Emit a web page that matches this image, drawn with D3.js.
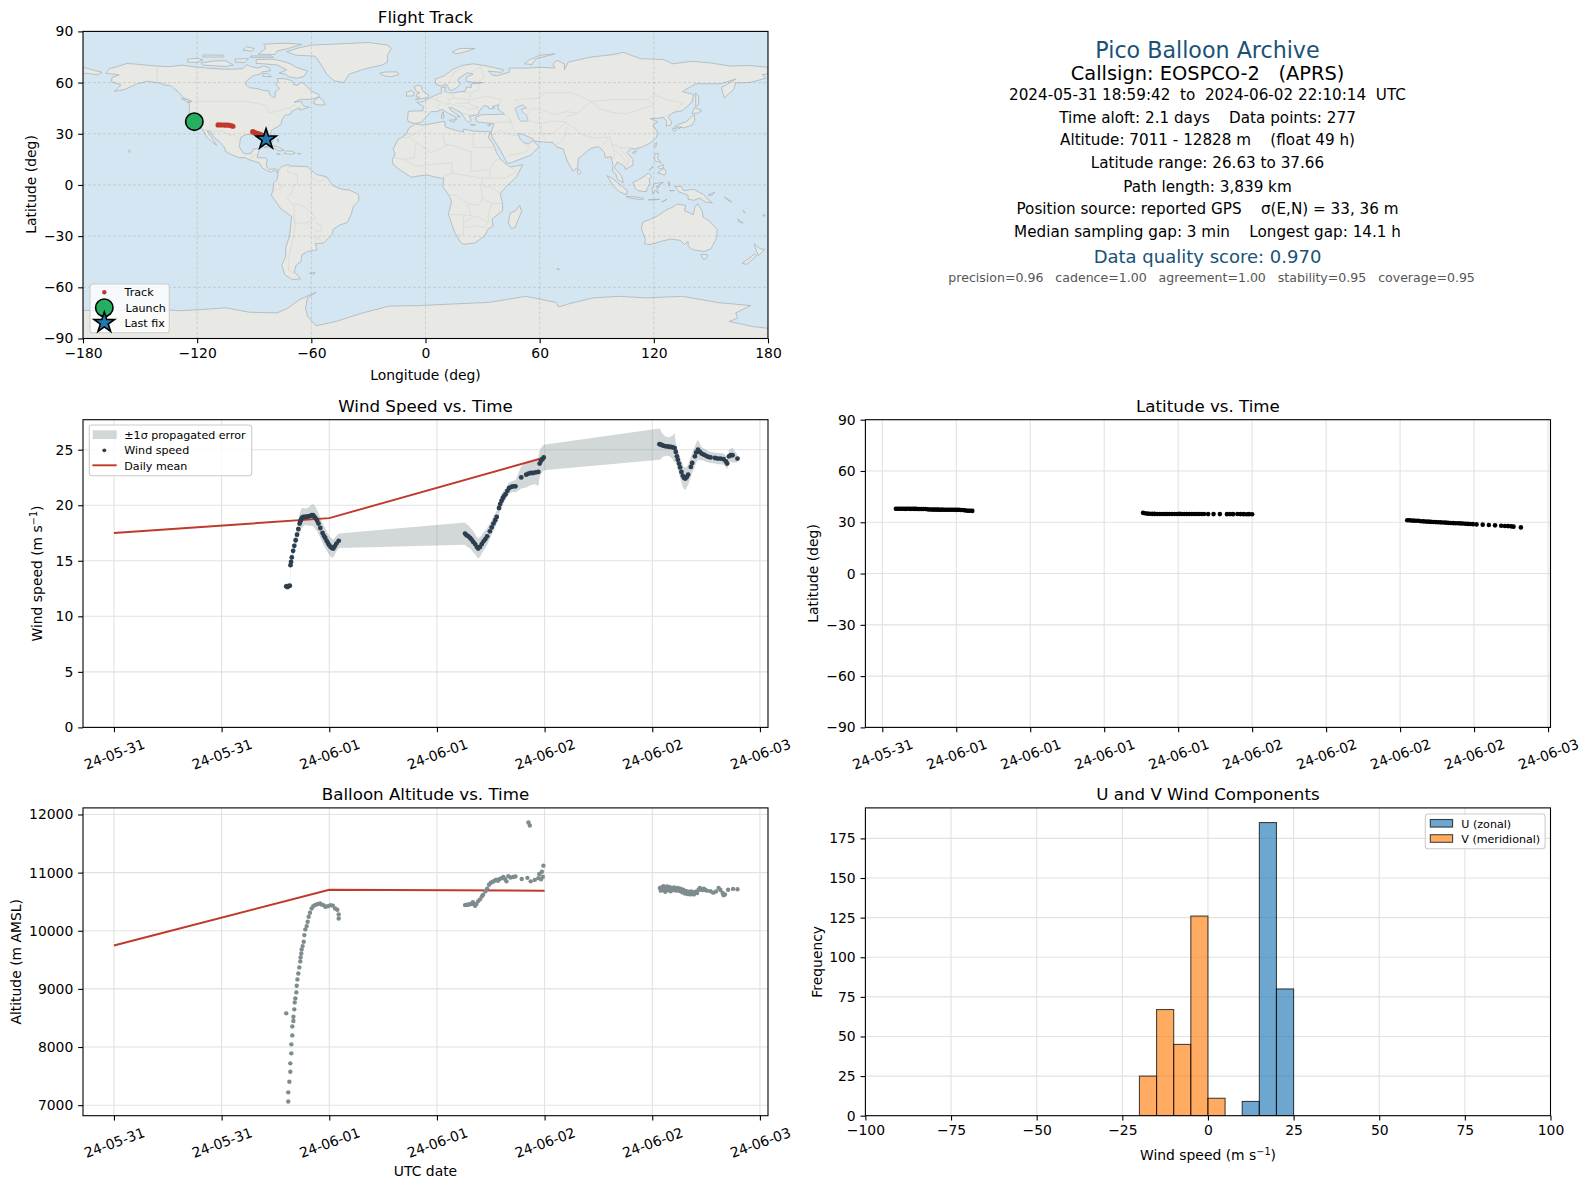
<!DOCTYPE html>
<html>
<head>
<meta charset="utf-8">
<script src="https://cdn.jsdelivr.net/npm/d3@7"></script>
<style>
body { margin: 0; background: #fff; }
text { font-family: "DejaVu Sans", sans-serif; fill: #000; white-space: pre; }
</style>
</head>
<body>
<div id="chart"></div>
<script>
// ---------- data: times are hours after 2024-05-31 00:00 UTC ----------
const startDate = Date.UTC(2024, 4, 31)

// [hour, wind speed, sigma]
const windLegOne = [[19.2,12.7,.35],[19.3,12.65,.3],[19.45,12.7,.3],[19.6,12.75,.3],[19.68,14.6,.4],[19.74,14.9,.4],[19.82,15.3,.45],[19.97,15.9,.5],[20.1,16.35,.55],[20.25,16.85,.6],[20.4,17.35,.7],[20.55,17.85,.8],[20.7,18.35,.9],[20.78,18.55,.9],[20.85,18.7,.9],[20.95,18.85,.9],[21.05,18.9,.85],[21.15,18.95,.8],[21.3,18.95,.75],[21.45,18.95,.75],[21.6,19,.8],[21.75,19,.85],[21.9,19.05,.9],[22.05,19.1,.95],[22.2,19.1,1],[22.35,18.95,1],[22.5,18.8,1],[22.65,18.6,.95],[22.8,18.35,.95],[23,17.95,.9],[23.25,17.5,.9],[23.4,17.25,.9],[23.55,17.05,.9],[23.7,16.8,.85],[23.85,16.6,.85],[24,16.4,.85],[24.15,16.25,.85],[24.3,16.15,.85],[24.45,16.1,.8],[24.6,16.3,.75],[24.8,16.55,.7],[25.05,16.8,.65]]
const windLegTwo = [[39.13,17.45,1],[39.3,17.3,1],[39.5,17.2,1],[39.7,17.05,.95],[39.87,16.9,.95],[40.05,16.7,.95],[40.25,16.5,.9],[40.45,16.25,.9],[40.6,16.1,.9],[40.8,16.25,.9],[41,16.5,.85],[41.2,16.75,.8],[41.4,16.95,.8],[41.6,17.2,.75],[41.9,17.65,.7],[42.1,18,.65],[42.3,18.35,.65],[42.5,18.65,.6],[42.66,18.95,.6],[42.92,19.75,.6],[43.05,20.1,.6],[43.2,20.4,.6],[43.35,20.65,.55],[43.5,20.85,.55],[43.65,21,.5],[43.85,21.3,.5],[44.05,21.55,.5],[44.3,21.65,.5],[44.5,21.7,.5],[44.75,21.7,.55],[45.4,22.5,1],[45.95,22.75,1.15],[46.2,22.85,1.15],[46.45,22.9,1.1],[46.7,22.9,1.05],[47,22.95,1.05],[47.3,23,1.3],[47.45,23.75,1.2],[47.6,24,1.15],[47.75,24.15,1.15],[47.9,24.3,1.15]]
const windLegThree = [[60.8,25.5,1.4],[60.95,25.45,1.3],[61.1,25.4,1.1],[61.3,25.35,.95],[61.5,25.3,.9],[61.7,25.3,.85],[61.9,25.25,.85],[62.1,25.25,.95],[62.3,25.2,1.1],[62.5,25.15,1.35],[62.62,24.8,.85],[62.75,24.4,.85],[62.85,24.1,.85],[62.98,23.75,.9],[63.1,23.4,.9],[63.25,23,.95],[63.4,22.65,1],[63.55,22.45,1],[63.7,22.4,1],[63.85,22.55,.95],[64,22.75,.9],[64.3,23.45,.9],[64.45,23.8,.9],[64.75,24.4,.9],[64.9,24.75,.9],[65.1,25,.9],[65.3,24.8,.75],[65.5,24.65,.6],[65.75,24.55,.55],[66,24.45,.55],[66.25,24.35,.5],[66.5,24.3,.5],[67,24.25,.5],[67.3,24.2,.5],[67.6,24.2,.5],[67.95,24.15,.5],[68.2,23.95,.5],[68.35,23.75,.5],[68.55,24.4,.55],[68.75,24.5,.6],[68.95,24.5,.65],[69.5,24.2,.35]]
const windMeanHours = [0, 24, 48]
const windMeanValues = [17.5, 18.84, 24.3]

// [hour, altitude]
const altLegOne = [[19.2,8579],[19.43,7063],[19.43,7221],[19.55,7404],[19.66,7576],[19.66,7719],[19.77,7891],[19.77,8046],[19.88,8200],[19.88,8355],[20,8447],[20,8521],[20.1,8648],[20.15,8768],[20.22,8837],[20.33,8940],[20.37,9054],[20.45,9163],[20.55,9266],[20.66,9370],[20.77,9473],[20.8,9542],[20.88,9610],[20.92,9679],[21.03,9736],[21.15,9811],[21.22,9925],[21.33,10023],[21.48,10080],[21.59,10155],[21.7,10241],[21.85,10309],[22.03,10384],[22.22,10424],[22.4,10441],[22.6,10453],[22.78,10462],[22.98,10470],[23.15,10450],[23.35,10441],[23.55,10413],[23.75,10420],[23.92,10424],[24.15,10441],[24.4,10432],[24.65,10384],[24.9,10360],[25.05,10281],[25.05,10212]]
const altLegTwo = [[39.13,10441],[39.3,10448],[39.5,10447],[39.7,10460],[39.87,10458],[40,10490],[40.1,10470],[40.25,10430],[40.4,10460],[40.6,10510],[40.8,10540],[41,10590],[41.15,10620],[41.4,10680],[41.6,10725],[41.8,10790],[42,10825],[42.2,10840],[42.4,10860],[42.6,10880],[42.8,10860],[43,10890],[43.2,10905],[43.4,10925],[43.6,10890],[43.75,10850],[43.95,10940],[44.2,10915],[44.5,10925],[44.75,10935],[45.45,10890],[46.08,10910],[46.2,11862],[46.35,11811],[46.45,10850],[46.9,10875],[47.3,10905],[47.4,10975],[47.6,10885],[47.7,11015],[47.8,10930],[47.87,11120]]
const altLegThree = [[60.85,10735],[60.95,10690],[61.05,10745],[61.15,10700],[61.25,10765],[61.35,10715],[61.45,10670],[61.55,10735],[61.65,10760],[61.75,10695],[61.85,10720],[61.95,10750],[62.05,10680],[62.15,10715],[62.25,10735],[62.35,10700],[62.45,10745],[62.55,10725],[62.65,10690],[62.75,10710],[62.85,10735],[62.95,10715],[63.05,10685],[63.15,10725],[63.25,10700],[63.35,10660],[63.45,10705],[63.55,10680],[63.65,10640],[63.75,10685],[63.85,10655],[63.95,10630],[64.05,10670],[64.15,10645],[64.25,10625],[64.35,10675],[64.45,10640],[64.55,10660],[64.65,10625],[64.8,10670],[65,10650],[65.15,10705],[65.3,10735],[65.45,10705],[65.6,10700],[65.75,10725],[65.9,10700],[66.1,10690],[66.5,10680],[66.8,10655],[67.1,10675],[67.4,10735],[67.6,10700],[67.85,10650],[67.95,10610],[68.1,10625],[68.45,10705],[69,10720],[69.5,10715]]
const altMeanHours = [0, 24, 48]
const altMeanValues = [9745, 10705, 10688]

// [hour, latitude]
const latLegOne = [[19.1,37.9],[19.25,37.92],[19.4,37.88],[19.55,37.95],[19.7,37.9],[19.85,37.86],[20,37.92],[20.15,37.9],[20.3,37.85],[20.45,37.88],[20.6,37.82],[20.75,37.85],[20.9,37.8],[21.05,37.78],[21.2,37.8],[21.35,37.75],[21.5,37.72],[21.65,37.6],[21.8,37.5],[21.95,37.45],[22.1,37.42],[22.25,37.4],[22.4,37.42],[22.55,37.38],[22.7,37.35],[22.85,37.38],[23,37.35],[23.15,37.32],[23.3,37.35],[23.45,37.3],[23.6,37.32],[23.75,37.3],[23.9,37.28],[24.05,37.25],[24.2,37.28],[24.35,37.2],[24.5,37.15],[24.65,37],[24.8,36.85],[24.95,36.75],[25.1,36.7],[25.3,36.65]]
const latLegTwo = [[39.15,35.5],[39.3,35.3],[39.5,35.05],[39.7,34.95],[39.9,34.9],[40.1,34.88],[40.3,34.85],[40.5,34.85],[40.7,34.82],[40.9,34.85],[41.1,34.85],[41.3,34.82],[41.5,34.85],[41.7,34.82],[41.9,34.85],[42.1,34.88],[42.3,34.85],[42.5,34.82],[42.7,34.85],[42.9,34.85],[43.1,34.82],[43.3,34.85],[43.5,34.82],[43.7,34.8],[43.9,34.82],[44.1,34.8],[44.43,34.78],[44.87,34.78],[45.38,34.78],[45.96,34.75],[46.2,34.78],[46.45,34.75],[46.8,34.8],[47.05,34.78],[47.3,34.75],[47.55,34.72],[47.75,34.75],[48,34.72]]
const latLegThree = [[60.58,31.2],[60.75,31.15],[60.9,31.05],[61.1,30.95],[61.3,30.9],[61.5,30.85],[61.7,30.6],[61.9,30.55],[62.1,30.4],[62.3,30.35],[62.5,30.25],[62.7,30.15],[62.9,30.1],[63.1,30.05],[63.3,29.95],[63.5,29.85],[63.7,29.8],[63.9,29.65],[64.1,29.55],[64.3,29.5],[64.5,29.4],[64.7,29.4],[64.9,29.35],[65.1,29.25],[65.3,29.15],[65.5,29.05],[65.7,28.95],[65.9,28.9],[66.2,28.75],[66.7,28.6],[67.2,28.4],[67.7,28.2],[68.2,27.95],[68.5,27.8],[68.75,27.75],[69,27.6],[69.2,27.45],[69.8,27]]

// map track [lon, lat]
const trackLegTwo = [[-109,35.2],[-107.5,35.2],[-106,35.15],[-105,35.1],[-104,35.15],[-103,35],[-102,34.7],[-101.2,34.4]]
const trackLegThree = [[-90.8,31.2],[-90,30.8],[-89,30.4],[-88,30.1],[-87,29.6],[-86,29.2],[-85,28.6]]
const launchPoint = [-121.5, 37.1]
const lastFixPoint = [-83.8, 26.75]

// histogram bins, 5 m/s wide: left edge and count
const uBinEdges = [10, 15, 20]
const uBinCounts = [9, 185, 80]
const vBinEdges = [-20, -15, -10, -5, 0]
const vBinCounts = [25, 67, 45, 126, 11]

// info block
const infoLines = [
  "Pico Balloon Archive",
  "Callsign: EOSPCO-2   (APRS)",
  "2024-05-31 18:59:42  to  2024-06-02 22:10:14  UTC",
  "Time aloft: 2.1 days    Data points: 277",
  "Altitude: 7011 - 12828 m    (float 49 h)",
  "Latitude range: 26.63 to 37.66",
  "Path length: 3,839 km",
  "Position source: reported GPS    \u03c3(E,N) = 33, 36 m",
  "Median sampling gap: 3 min    Longest gap: 14.1 h",
  "Data quality score: 0.970",
  "precision=0.96   cadence=1.00   agreement=1.00   stability=0.95   coverage=0.95"
]

// ---------- land outlines, [lon, lat] ----------
const northAmerica = [[-168,65.5],[-166,68.3],[-163,69],[-157,71.2],[-152,70.8],[-145,70],[-141,69.7],[-135,69.3],[-128,70.2],[-124,69.6],[-115,68.5],[-108,68],[-102,67.8],[-96,68.2],[-94,70.5],[-92,69.5],[-88,68.5],[-85,69.7],[-82,68.5],[-81.5,67],[-86,66.2],[-87,65],[-91,63.8],[-94,61],[-94.6,58.9],[-92.5,57],[-88,56.4],[-85,55.3],[-82.3,55.1],[-82,53],[-80,51.3],[-79,51.5],[-79,54.5],[-76.7,56.5],[-78.5,58.8],[-77.5,60.5],[-78,62.4],[-73.5,62.2],[-70,61],[-69.5,59],[-67.5,58.3],[-65,60.2],[-62,57.5],[-60,55],[-56,53],[-56,51.6],[-60,50.2],[-66,50.2],[-69,48.5],[-65,49],[-65,47.5],[-64,46.2],[-61,45.5],[-66,43.8],[-66,45.2],[-68,44.4],[-70.5,43],[-70.5,41.8],[-74,40.7],[-75.5,38],[-76,35.5],[-78,33.9],[-81,32],[-81.3,30],[-80,26.8],[-80.4,25.2],[-81.8,26],[-82.7,28],[-83.5,29.5],[-85.3,29.7],[-89,30.3],[-89.6,29.2],[-91.5,29.5],[-94,29.6],[-97,28],[-97.5,25.5],[-97.8,22.5],[-96,19],[-94.5,18.2],[-91.5,18.6],[-90.5,21],[-87,21.5],[-88,18.5],[-88.5,16],[-84,15.8],[-83.2,15],[-83.7,11],[-82,9],[-79.5,9.5],[-77.3,8.6],[-77.9,7.2],[-79.5,8.8],[-81,7.5],[-83,8.2],[-85.7,10],[-87.5,13],[-92,14.5],[-95,16],[-98,16],[-102,17.8],[-105.5,20],[-105.3,21.5],[-108,25],[-111,27.8],[-113,31.3],[-114.8,31.7],[-112.5,28],[-109.8,23.2],[-112,25],[-115,28],[-117,32.5],[-120.6,34.5],[-122.5,37.5],[-124.2,40.3],[-124,46],[-124.7,48.4],[-122.8,49],[-127,51],[-130,54.5],[-133.5,58],[-137,58.5],[-140,59.8],[-146,60.8],[-152,59.2],[-154,58],[-158,56],[-163.5,54.8],[-160,58.6],[-165,60.5],[-164.8,63],[-161,64.5],[-168,65.5]]
const southAmerica = [[-77.3,8.6],[-75.5,10.8],[-72,12],[-71.3,11],[-68,11],[-62,10.7],[-60,8.5],[-57,6],[-52,4.8],[-50,1.5],[-48.5,-0.5],[-44,-2.5],[-40,-3],[-35.2,-5.5],[-35,-9],[-38,-12.8],[-39,-17],[-41,-22],[-45,-23.5],[-48.5,-26],[-49,-29],[-53.5,-34],[-58,-34.5],[-57,-38],[-62,-39],[-65,-41],[-65.5,-45],[-68,-47],[-69,-51],[-65.5,-55],[-70,-55.5],[-74,-52.5],[-75.5,-47],[-73.5,-42],[-73.5,-37],[-71.5,-30],[-70.3,-18.5],[-76,-14],[-81,-6],[-80,-2.5],[-80,1],[-78,3],[-77.5,7],[-77.3,8.6]]
const eurasia = [[-9,37],[-9.5,38.8],[-9,43.2],[-1.5,43.5],[-1,46],[-4.7,48.4],[-1.5,48.7],[1.5,50.5],[4,52],[7,53.5],[8.5,54],[8.2,57],[10.5,57.5],[10,55],[12,54],[14,53.9],[18.5,54.7],[21,55],[21.5,57.5],[24,57],[24,59.3],[28,59.5],[30,60],[25,60.2],[21.5,60.7],[21.3,63],[25,65],[22,65.8],[17.5,62.5],[17,61],[18.5,59.5],[16.5,57],[14,55.5],[12.8,55.5],[11,59],[8,58],[5.5,59],[5,62],[10,64],[14,67.5],[19,70],[25,71],[31,70],[41,67.5],[40,66],[35,66.5],[33,66.7],[35,64.5],[38,64],[40.5,65],[44,66],[44,68.5],[54,68.5],[60,69],[68,68.5],[67,71],[69,73],[73,71],[73,67.5],[75,72],[81,73.5],[87,75],[98,76.3],[104,77.7],[113,74],[125,73.5],[130,71],[140,72.5],[150,71.5],[160,69.7],[170,70],[180,69],[180,65],[177,64.7],[179,62.5],[170,60],[163,59.8],[162,56],[157,51],[155.5,57],[163,62],[155,59.3],[142,59.3],[135,54.7],[141,53],[140,48.5],[135,43.5],[132,43],[130,42.3],[127.5,39.7],[129.4,37],[129,35.2],[126.5,34.5],[126.7,37.5],[125,39.6],[121.5,39],[118,39],[122,37],[119.5,35],[122,31],[121.5,28],[118,24.5],[114,22.3],[110,21],[108,21.6],[106,19],[109,15],[109,11.5],[105,9],[105,10.3],[100.8,13.5],[99.3,10],[103,5.5],[104,1.4],[101,3],[100,6.5],[98.3,8],[98.5,12],[97.5,16.5],[94.5,16],[94,19],[91,22.5],[87,21.5],[80.3,15.5],[80,10.5],[77.5,8],[74.5,14],[72.8,19.5],[72.5,21],[69,22.3],[67,24.8],[62,25.2],[57.3,25.7],[56.5,27],[50.5,30],[48.5,30],[50,26.5],[51.5,25],[54,24],[56.3,26],[59.8,22.5],[55.3,17.5],[45,13],[43,12.8],[39,21],[35,28],[34.5,31],[36,36],[30.5,36.5],[27,37],[26.3,39.5],[29,41],[31,41.2],[36,41.3],[41.5,41.5],[38,44.5],[38.5,47],[35,46],[36.5,45.2],[33.5,44.5],[33,46],[30.7,46.5],[28,43],[28,41.5],[26,40.7],[23,40.5],[24,38],[22.8,36.5],[21,38.5],[19.5,41],[19,42.2],[14,45.2],[12.3,45.3],[13.5,43.5],[18.3,40],[16.9,40.3],[16,38],[15.7,40],[12,42],[8.8,44.3],[6,43],[3,43],[0,39.5],[-2,36.8],[-5.5,36],[-9,37]]
const chukotkaTip = [[-180,69],[-175,67.5],[-170,66],[-172.5,64.5],[-178,65.5],[-180,65]]
const africa = [[-5.5,35.8],[-1.5,35],[10,37.3],[10.5,34],[15,32.3],[20,31],[20,32.8],[25,31.6],[32,31.2],[34.3,31.2],[33,28],[35.5,24],[37.5,18.5],[39.5,15],[43,11.6],[44.5,10.5],[51,11.8],[48,5],[42,-1.5],[39.3,-5],[40.5,-11],[40.5,-15],[35,-20],[35.5,-24],[32.8,-26],[31,-30],[26,-34],[20,-34.8],[18.3,-33.5],[15,-27],[12,-17],[13.7,-10],[12.3,-6],[9,-1],[9.7,3.8],[5.5,4.5],[1,5.8],[-4,5.2],[-7.5,4.5],[-13,8.5],[-17,12],[-17.5,14.7],[-16,18],[-17,21],[-14.5,26.5],[-9.8,30],[-9,33],[-5.5,35.8]]
const australia = [[114,-22],[113.5,-26],[115.7,-32],[115,-34.4],[118,-35],[124,-33],[129,-31.7],[134,-32.5],[136,-34.8],[138,-33],[138,-35.7],[140.5,-38],[146.3,-39],[150,-37.5],[153,-31],[153.3,-26],[149,-21],[146,-19],[145.3,-15],[143,-11],[141.5,-13],[140.8,-17.5],[136,-15],[136.8,-12],[132,-11.2],[130,-13],[127,-14.3],[122.2,-18],[117,-20.7],[114,-22]]
const antarctica = [[-180,-73.5],[-164,-73.5],[-143,-72.7],[-129,-73.7],[-117,-73],[-105,-72],[-92.6,-74.6],[-78,-75],[-72,-72],[-66,-67],[-57.5,-63],[-62,-66],[-63,-72],[-62,-77],[-57.5,-82.5],[-47,-80],[-33,-75],[-19,-71],[-3.3,-70.7],[14,-69.8],[33.5,-68.8],[52.7,-65.3],[68.5,-68.8],[70,-71.5],[75.5,-69.6],[88,-66.2],[102,-65.3],[116,-66.2],[135,-65.3],[154.3,-69],[171,-70.7],[163,-75],[164,-78],[159.6,-80],[172,-83],[180,-84],[180,-90],[-180,-90],[-180,-73.5]]
const greenland = [[-73,78.2],[-66,80.5],[-60,82],[-45,82.7],[-30,83.5],[-20,82],[-18,80],[-20,76],[-20,72],[-23,70.2],[-32,68],[-40,65],[-43,60],[-48,61],[-52,65],[-54,69],[-58,75.5],[-68,76],[-73,78.2]]
const arcticIslands = [
  [[-80,73.7],[-76,72.8],[-71,71],[-68,69],[-62,66.8],[-64,63.5],[-68,62.5],[-72,63.5],[-73.5,65],[-77,65.5],[-73,67.5],[-78,70.3],[-85,71],[-89,71.3],[-89,73.5]],
  [[-117,70.2],[-105,69.5],[-101,70.3],[-105,72.8],[-111,72.7],[-118,71.5]],
  [[-125,72],[-120,71.8],[-117,73.3],[-120,74.3],[-125,73.8]],
  [[-88,76.6],[-79,76.5],[-78,78.5],[-72,80],[-65,82.5],[-75,83.1],[-85,82.5],[-84,80]],
  [[-92,74.8],[-80,74.8],[-81,75.6],[-92,75.6]],
  [[-117,75],[-106,75],[-106,76],[-117,76.2]],
  [[-96,79],[-91,78.4],[-90,80],[-94,81]],
  [[-100,72],[-95,71.8],[-93,74],[-100,73.8]],
  [[-85.5,63.7],[-81,63.5],[-83,65.3],[-85.5,65.3]],
  [[14,78],[16,76.8],[22,78.3],[26,80],[18,80]],
  [[52,71],[56,70.6],[58,74],[68,76.8],[60,76],[54,73]]
]
const otherIslands = [
  [[-59,47.7],[-55.5,46.8],[-52.8,47],[-53.5,49.2],[-56,51.5],[-58,50]],
  [[-85,21.9],[-82,23.1],[-78,22.5],[-74.2,20.2],[-77.5,19.9],[-78,20.8],[-82,22.2]],
  [[-74.4,18.5],[-73,19.9],[-69.9,19.7],[-68.4,18.6],[-71,18]],
  [[-78.3,18.3],[-76.3,18.1],[-77,17.8]],
  [[-67.2,18.4],[-65.6,18.4],[-66,18]],
  [[-78,26.7],[-77,26.5],[-77.5,25]],
  [[-156,20.6],[-155,19.7],[-155.7,19]],
  [[-128.3,50.7],[-125,50],[-123.5,48.4],[-125.5,48.8]],
  [[-61,-51.8],[-58,-51.3],[-58.5,-52.3]],
  [[-5.5,50],[1.3,51.2],[1.7,52.7],[-1,54.5],[-2,56],[-2,57.7],[-4,58.6],[-6,57.5],[-5,55],[-3,54],[-4.5,53.2],[-5,51.8],[-3,51.3]],
  [[-10,52],[-6.5,52.2],[-6,54],[-7.5,55.3],[-10,54.2]],
  [[-24,65.5],[-22,64],[-18,63.4],[-14,64.7],[-15,66.3],[-21,66.2]],
  [[12.5,38],[15.5,38.2],[15,36.7]],
  [[8.3,41],[9.7,41],[9.6,39.1],[8.5,39]],
  [[8.7,42.6],[9.5,42.8],[9.3,41.4]],
  [[23.5,35.5],[26.3,35.2],[24.5,34.9]],
  [[32.5,35],[34.5,35.6],[33.5,34.7]],
  [[49.5,-12],[50.5,-15.5],[47,-25],[45,-25.5],[43.5,-22],[44.5,-16.5],[47.5,-15]],
  [[142,54],[143.5,52],[143.5,47],[142,46],[142,50]],
  [[130.9,34],[136,33.5],[140,35],[141.5,38],[141.3,41.3],[139.9,40],[137,37],[133,35.5]],
  [[140,42],[141.5,45.4],[145.3,43.5],[143,42]],
  [[130,33.3],[131.8,33],[131,31.3],[130,32]],
  [[132.5,34],[134.5,34],[133,32.8]],
  [[120,23],[121.5,25],[121,22]],
  [[108.8,19],[111,20],[110,18.3]],
  [[120.3,16],[120.7,18.5],[122.3,18.3],[122,15.5],[124,13],[120.8,14]],
  [[122,7],[123.5,8.5],[125.5,9.7],[126.5,7.5],[125.5,5.7],[124,6.5]],
  [[122,10.5],[125,12],[125,10],[123,9.5]],
  [[117.5,8.5],[119.5,11],[119,10]],
  [[80,9.7],[82,7.5],[80.7,6],[79.8,7.5]],
  [[95.3,5.5],[98,4],[104,-1.5],[106,-3.2],[105.8,-5.8],[102,-4],[99,-1]],
  [[105.5,-6.8],[108.5,-6.7],[114.5,-7.7],[114.3,-8.7],[108,-7.8]],
  [[109,1.5],[111.5,2.8],[115,5],[117,7],[119,5],[117.5,3.5],[118,1],[116.5,-2],[116,-4],[111.5,-3.3],[110,-1.5]],
  [[119.5,-5.5],[119,-3],[120,0.7],[125,1.5],[121,-1],[123,-1],[121.5,-2],[122.5,-5],[120.5,-3]],
  [[131,-0.8],[134.5,-0.8],[135.5,-3.3],[141,-2.6],[146,-5.5],[148,-8],[150.8,-10.5],[147,-10],[144,-7.7],[141,-9],[138,-8.4],[138,-6],[133,-4],[132.5,-2.8]],
  [[124,-10],[127,-8.4],[125,-9.5]],
  [[117,-8.7],[123,-8.4],[120,-8.8]],
  [[127.5,2],[128.5,1],[128,-0.8]],
  [[128,-3.2],[130.8,-3.3],[129,-3.5]],
  [[148.5,-6],[152,-4.2],[150.5,-6]],
  [[157,-7],[161,-10],[160,-9.8]],
  [[164,-20],[167,-22.3],[165,-21.8]],
  [[167,-15],[168,-16.5],[167.3,-16]],
  [[177.3,-17.5],[178.6,-18],[177.5,-18.3]],
  [[144.7,-40.7],[148.3,-40.9],[147.5,-43.3],[146,-43.5]],
  [[172.7,-34.5],[176,-37.5],[178.3,-37.7],[175,-41.5],[174,-39]],
  [[172.7,-40.5],[174,-41.5],[171,-44.5],[168.5,-46.6],[166.5,-45.8],[170.5,-42.7]],
  [[69,-49],[70.5,-49.5],[69.5,-49.7]]
]
const inlandSeas = [
  [[47,45],[51,47],[53,45],[50.5,44.5],[51,42.5],[53,41],[54,37.5],[50,37.3],[49,39],[48,42]]
]
const borderLines = [
  [[-123,49],[-95,49],[-89,48],[-84.5,46.5],[-82.5,45],[-82.5,42],[-79,43],[-76,44],[-74.5,45],[-71,45],[-69,47.3],[-67.5,45.5]],
  [[-141,69.7],[-141,60.3],[-135,59],[-130,55.5]],
  [[-117,32.5],[-111,31.3],[-106.5,31.7],[-103,29],[-101,29.7],[-97.2,26]],
  [[-92,14.6],[-91,17],[-89,18]],
  [[-72,11],[-72.5,7.5],[-67.5,6],[-67,1],[-70,-1],[-70,-4.2],[-73,-7],[-70.5,-11],[-69,-12.5],[-69,-16],[-68.5,-22.5],[-62.5,-22],[-58,-19.5],[-60,-16],[-65,-12],[-69.5,-11]],
  [[-69.5,-17.5],[-68.5,-24],[-70,-33],[-71.5,-40],[-72,-50],[-69,-52]],
  [[-62.5,-22],[-58,-27],[-55,-27],[-54.5,-24],[-58,-22]],
  [[-58,-34],[-57.5,-30],[-53.5,-33.7]],
  [[-80,-3.5],[-75,-1],[-78,1.5]],
  [[-60,8.5],[-60,5],[-57,2],[-54,2.5],[-52,4]],
  [[-1.5,35],[-2,32],[-9,28],[-13,27.7]],
  [[-9,28],[-5,25],[-6,16],[-12,15],[-16.5,16]],
  [[-5,25],[3,19],[12,23.5]],
  [[9,30],[10,24],[12,23.5],[15,23],[24,19.5],[24,8]],
  [[25,31.6],[25,22],[37,22]],
  [[3,12],[14,13],[14,7],[9,4.5]],
  [[-12,15],[-5,11],[3,12]],
  [[24,8],[34,9],[36,14],[39,15]],
  [[34,9],[34,4],[42,4],[48,8],[43,11.5]],
  [[14,7],[24,5],[30,4],[34,4]],
  [[12,-6],[16,-6],[22,-11],[28,-12],[30,-8],[29,-1],[30,4]],
  [[30,-1],[34,-1],[39,-4.5]],
  [[30,-8],[35,-11],[40.5,-10.8]],
  [[12,-17],[24,-18],[22,-11]],
  [[20,-18],[20,-29],[17,-29]],
  [[20,-22],[26,-18],[33,-22],[31,-25],[27,-24],[20,-25]],
  [[35,-11],[33,-16],[33,-22]],
  [[-1.8,43.3],[3,42.5]],
  [[2.5,51],[6,49.5],[8,48.9],[7.5,47.5],[6,46],[7.5,44]],
  [[7,53.3],[6,51],[6,49.5]],
  [[9,54.8],[14,54]],
  [[14,54],[15,51],[12,50],[13,47.5],[9.5,47.5]],
  [[14,51],[23,50],[24,54],[19,54.4]],
  [[13.5,46.5],[17,48],[22,48],[24,50]],
  [[22,48],[28,45.3],[22.5,44],[20,46],[17,46]],
  [[19,42],[23,41],[26.5,41.5]],
  [[24,50],[32,52],[40,50],[38.5,47]],
  [[24,54],[28,56],[28,59.5]],
  [[12,60],[15,66],[20,69]],
  [[24,66],[29,69.5],[31,63],[28,60.7]],
  [[50,46],[47,50],[60,51],[62,54],[77,54],[87,49]],
  [[87,49],[98,50],[107,50],[117,50],[120,53],[127,50],[135,48],[131,43]],
  [[87,49],[91,45],[97,42.7],[105,41.7],[112,44],[120,47],[117,50]],
  [[87,49],[80,42],[74,40]],
  [[53,41],[56,45],[61,44],[68,41],[74,43],[80,42]],
  [[54,37.5],[61,36],[66,37.5],[74,37]],
  [[61,36],[61,30],[63,26.5]],
  [[61,30],[66,30],[71,34],[74,37]],
  [[74,34],[74,30],[71,25],[68,23.5]],
  [[74,36],[79,33],[81,30],[88,27.5],[97,28]],
  [[97,28],[92,22]],
  [[97,28],[98,24],[99,20],[99,15]],
  [[100,20],[105,14.5],[103,11]],
  [[102,22],[108,21.6]],
  [[102,22],[107,15],[105.5,10.5]],
  [[98,24],[102,22]],
  [[44.5,39],[46,33],[48.5,30]],
  [[36,36.5],[44.5,37],[44.5,39],[41.5,41.5]],
  [[35,29],[39,32],[46,29],[48.5,29]],
  [[43,17],[52,19],[55,22],[52,24]],
  [[125,40],[130,42.3]]
]

// ---------- layout ----------
const width = 1589, height = 1189
const panels = {
  map:  { left: 83, right: 768, top: 31.4, bottom: 338.5 },
  wind: { left: 83, right: 768, top: 419.7, bottom: 727.4 },
  lat:  { left: 865.4, right: 1550.5, top: 419.7, bottom: 727.4 },
  alt:  { left: 83, right: 768, top: 807.9, bottom: 1115.7 },
  hist: { left: 865.4, right: 1550.5, top: 807.9, bottom: 1115.7 }
}
const tickLen = 4.86
const red = "#c0392b"
const starSize = 130

// one entry per info line: centre x, centre y, font size, colour
const infoStyle = [
  [1207.5, 50.7, 22.2, "#1a5276"],
  [1207.5, 73, 19.4, "#000"],
  [1207.5, 94.2, 15.2, "#000"],
  [1207.5, 117.6, 15.2, "#000"],
  [1207.5, 139.8, 15.2, "#000"],
  [1207.5, 163, 15.2, "#000"],
  [1207.5, 186.5, 15.2, "#000"],
  [1207.5, 208.8, 15.2, "#000"],
  [1207.5, 232, 15.2, "#000"],
  [1207.5, 256.4, 18, "#1a5276"],
  [1211.6, 277.7, 12.55, "#555"]
]

const svg = d3.select("#chart").append("svg")
  .attr("width", width)
  .attr("height", height)
  .style("display", "block")

let clipId = 0

function setupPanel(box, xDomain, yDomain) {
  const x = d3.scaleLinear().domain(xDomain).range([box.left, box.right])
  const y = d3.scaleLinear().domain(yDomain).range([box.bottom, box.top])
  const id = "clip" + clipId++
  svg.append("clipPath").attr("id", id).append("rect")
    .attr("x", box.left).attr("y", box.top)
    .attr("width", box.right - box.left).attr("height", box.bottom - box.top)
  const g = svg.append("g").attr("clip-path", "url(#" + id + ")")
  return { box, x, y, g }
}

function drawGrid(p, xTicks, yTicks, color, dash, lineWidth) {
  const grid = p.g.append("g").attr("stroke", color).attr("stroke-width", lineWidth || 1.1)
  if (dash) grid.attr("stroke-dasharray", dash)
  grid.selectAll(".v").data(xTicks).join("line").attr("class", "v")
    .attr("x1", d => p.x(d)).attr("x2", d => p.x(d))
    .attr("y1", p.box.top).attr("y2", p.box.bottom)
  grid.selectAll(".h").data(yTicks).join("line").attr("class", "h")
    .attr("x1", p.box.left).attr("x2", p.box.right)
    .attr("y1", d => p.y(d)).attr("y2", d => p.y(d))
}

function drawFrame(p, xTicks, yTicks, title, xFormat, rotate) {
  const box = p.box
  svg.append("rect")
    .attr("x", box.left).attr("y", box.top)
    .attr("width", box.right - box.left).attr("height", box.bottom - box.top)
    .attr("fill", "none").attr("stroke", "#000").attr("stroke-width", 1.1)

  const xAxis = svg.append("g")
    .attr("transform", "translate(0," + box.bottom + ")")
    .call(d3.axisBottom(p.x).tickValues(xTicks).tickFormat(xFormat).tickSize(tickLen).tickPadding(4.86))
  const yAxis = svg.append("g")
    .attr("transform", "translate(" + box.left + ",0)")
    .call(d3.axisLeft(p.y).tickValues(yTicks).tickSize(tickLen).tickPadding(4.86).tickFormat(plainLabel))

  for (const a of [xAxis, yAxis]) {
    a.select(".domain").remove()
    a.selectAll("line").attr("stroke", "#000").attr("stroke-width", 1.1)
    a.selectAll("text").style("font-size", "13.9px").style("font-family", '"DejaVu Sans"').attr("fill", "#000")
  }
  if (rotate) {
    xAxis.selectAll("text")
      .attr("y", 26.9).attr("dy", "0.35em")
      .attr("transform", "rotate(-20 0 26.9)")
  }

  svg.append("text")
    .attr("x", (box.left + box.right) / 2).attr("y", box.top - 8)
    .attr("text-anchor", "middle").style("font-size", "16.67px")
    .text(title)
}

function xLabel(cx, cy, parts) {
  const t = svg.append("text").attr("x", cx).attr("y", cy).attr("dy", "0.35em")
    .attr("text-anchor", "middle").style("font-size", "13.9px")
  writeParts(t, parts)
}

function yLabel(cx, cy, parts) {
  const t = svg.append("text").attr("transform", "translate(" + cx + "," + cy + ") rotate(-90)")
    .attr("dy", "0.35em").attr("text-anchor", "middle").style("font-size", "13.9px")
  writeParts(t, parts)
}

// a plain string, or [before, superscript, after]
function writeParts(t, parts) {
  if (typeof parts === "string") { t.text(parts); return }
  t.append("tspan").text(parts[0])
  t.append("tspan").attr("dy", "-5").style("font-size", "9.7px").text(parts[1])
  t.append("tspan").attr("dy", "5").text(parts[2])
}

function dots(p, rows, r, color, getX, getY) {
  p.g.append("g").selectAll("circle").data(rows).join("circle")
    .attr("cx", d => p.x(getX(d)))
    .attr("cy", d => p.y(getY(d)))
    .attr("r", r)
    .attr("fill", color)
}

function legendBox(x0, y0, w, h) {
  svg.append("rect").attr("x", x0).attr("y", y0).attr("width", w).attr("height", h)
    .attr("rx", 2.8).attr("fill", "#fff").attr("fill-opacity", 0.8)
    .attr("stroke", "#ccc").attr("stroke-width", 1.1)
}

function legendText(x0, cy, label) {
  svg.append("text").attr("x", x0).attr("y", cy).attr("dy", "0.35em")
    .style("font-size", "11.1px").text(label)
}

function dateLabel(d) { return d3.utcFormat("%y-%m-%d")(new Date(startDate + d * 3600e3)) }
function plainLabel(d) { return d3.format("")(d).replace("-", "\u2212") }

// ---------- flight track map ----------
const lonTicks = [-180, -120, -60, 0, 60, 120, 180]
const latTicks = [-90, -60, -30, 0, 30, 60, 90]
const mapP = setupPanel(panels.map, [-180, 180], [-90, 90])
const geoLine = d3.line().x(d => mapP.x(d[0])).y(d => mapP.y(d[1]))

mapP.g.append("rect")
  .attr("x", panels.map.left).attr("y", panels.map.top)
  .attr("width", panels.map.right - panels.map.left)
  .attr("height", panels.map.bottom - panels.map.top)
  .attr("fill", "#d4e6f1")

const landShapes = [northAmerica, southAmerica, eurasia, chukotkaTip, africa, australia, antarctica, greenland]
  .concat(arcticIslands, otherIslands)
mapP.g.append("g").selectAll("path").data(landShapes).join("path")
  .attr("d", d => geoLine(d) + "Z")
  .attr("fill", "#e8e8e4")
  .attr("stroke", "#abb5ba")
  .attr("stroke-width", 0.8)
  .attr("stroke-linejoin", "round")
mapP.g.append("g").selectAll("path").data(inlandSeas).join("path")
  .attr("d", d => geoLine(d) + "Z")
  .attr("fill", "#d4e6f1")
  .attr("stroke", "#abb5ba")
  .attr("stroke-width", 0.7)
mapP.g.append("g").selectAll("path").data(borderLines).join("path")
  .attr("d", geoLine)
  .attr("fill", "none")
  .attr("stroke", "#d6d8d6")
  .attr("stroke-width", 0.7)

drawGrid(mapP, lonTicks, latTicks, "rgba(128,128,128,0.35)", "3,2", 0.7)

dots(mapP, trackLegTwo.concat(trackLegThree), 2.6, red, d => d[0], d => d[1])

mapP.g.append("circle")
  .attr("cx", mapP.x(launchPoint[0])).attr("cy", mapP.y(launchPoint[1]))
  .attr("r", 8.7).attr("fill", "#27ae60").attr("stroke", "#000").attr("stroke-width", 1.6)
mapP.g.append("path")
  .attr("d", d3.symbol(d3.symbolStar, starSize))
  .attr("transform", "translate(" + mapP.x(lastFixPoint[0]) + "," + mapP.y(lastFixPoint[1]) + ")")
  .attr("fill", "#2478b0").attr("stroke", "#000").attr("stroke-width", 1.6)

drawFrame(mapP, lonTicks, latTicks, "Flight Track", plainLabel, false)
xLabel(425.5, 375, "Longitude (deg)")
yLabel(31.4, 184.5, "Latitude (deg)")

legendBox(90, 284, 79.3, 48.7)
svg.append("circle").attr("cx", 104.3).attr("cy", 292.3).attr("r", 2.2).attr("fill", red)
legendText(124.6, 292, "Track")
svg.append("circle").attr("cx", 104.3).attr("cy", 307.7).attr("r", 8.7)
  .attr("fill", "#27ae60").attr("stroke", "#000").attr("stroke-width", 1.6)
legendText(125.6, 307.7, "Launch")
svg.append("path").attr("d", d3.symbol(d3.symbolStar, starSize))
  .attr("transform", "translate(104.3,322.8)")
  .attr("fill", "#2478b0").attr("stroke", "#000").attr("stroke-width", 1.6)
legendText(124.6, 323.3, "Last fix")

// ---------- info block ----------
svg.append("g").selectAll("text").data(infoLines).join("text")
  .attr("x", (d, i) => infoStyle[i][0])
  .attr("y", (d, i) => infoStyle[i][1])
  .attr("dy", "0.35em")
  .attr("text-anchor", "middle")
  .style("font-size", (d, i) => infoStyle[i][2] + "px")
  .style("fill", (d, i) => infoStyle[i][3])
  .text(d => d)

// ---------- wind speed ----------
const hours12 = d3.range(0, 73, 12)
const windRows = windLegOne.concat(windLegTwo, windLegThree)
const windP = setupPanel(panels.wind, [-3.45, 72.9], [0, 27.7])
const gridColor = "#e2e2e2"
drawGrid(windP, hours12, [0, 5, 10, 15, 20, 25], gridColor)

const windBand = d3.area()
  .x(d => windP.x(d[0]))
  .y0(d => windP.y(d[1] - d[2]))
  .y1(d => windP.y(d[1] + d[2]))
windP.g.append("path").datum(windRows)
  .attr("d", windBand)
  .attr("fill", "#7f8c8d").attr("fill-opacity", 0.35)

const windMeanLine = d3.line().x((d, i) => windP.x(windMeanHours[i])).y(d => windP.y(d))
windP.g.append("path").datum(windMeanValues)
  .attr("d", windMeanLine)
  .attr("fill", "none").attr("stroke", red).attr("stroke-width", 1.9)

dots(windP, windRows, 2.4, "#2c3e50", d => d[0], d => d[1])
drawFrame(windP, hours12, [0, 5, 10, 15, 20, 25], "Wind Speed vs. Time", dateLabel, true)
yLabel(37.5, 573.5, ["Wind speed (m s", "\u22121", ")"])

legendBox(89.3, 425, 162.4, 50.7)
svg.append("rect").attr("x", 92.7).attr("y", 430.3).attr("width", 24).attr("height", 8.7)
  .attr("fill", "#7f8c8d").attr("fill-opacity", 0.35)
legendText(124.3, 435.3, "\u00b11\u03c3 propagated error")
svg.append("circle").attr("cx", 104.3).attr("cy", 450.3).attr("r", 1.9).attr("fill", "#2c3e50")
legendText(124.3, 450.3, "Wind speed")
svg.append("line").attr("x1", 92.4).attr("x2", 116.7).attr("y1", 465.3).attr("y2", 465.3)
  .attr("stroke", red).attr("stroke-width", 1.9)
legendText(124.3, 466, "Daily mean")

// ---------- latitude ----------
const hours6 = d3.range(18, 73, 6)
const latRows = latLegOne.concat(latLegTwo, latLegThree)
const latP = setupPanel(panels.lat, [16.63, 72.2], [-90, 90])
drawGrid(latP, hours6, latTicks, gridColor)
dots(latP, latRows, 2.3, "#000", d => d[0], d => d[1])
drawFrame(latP, hours6, latTicks, "Latitude vs. Time", dateLabel, true)
yLabel(812.7, 573.5, "Latitude (deg)")

// ---------- altitude ----------
const altTicks = [7000, 8000, 9000, 10000, 11000, 12000]
const altRows = altLegOne.concat(altLegTwo, altLegThree)
const altP = setupPanel(panels.alt, [-3.45, 72.9], [6819, 12113])
drawGrid(altP, hours12, altTicks, gridColor)
const altMeanLine = d3.line().x((d, i) => altP.x(altMeanHours[i])).y(d => altP.y(d))
altP.g.append("path").datum(altMeanValues)
  .attr("d", altMeanLine)
  .attr("fill", "none").attr("stroke", red).attr("stroke-width", 2)
dots(altP, altRows, 2.2, "#7f8c8d", d => d[0], d => d[1])
drawFrame(altP, hours12, altTicks, "Balloon Altitude vs. Time", dateLabel, true)
yLabel(16.2, 961.8, "Altitude (m AMSL)")
xLabel(425.5, 1171, "UTC date")

// ---------- histogram ----------
const histXTicks = d3.range(-100, 101, 25)
const histYTicks = d3.range(0, 176, 25)
const histP = setupPanel(panels.hist, [-100, 100], [0, 194.25])
drawGrid(histP, histXTicks, histYTicks, gridColor)

function drawBins(edges, counts, color) {
  histP.g.append("g").selectAll("rect").data(counts).join("rect")
    .attr("x", (d, i) => histP.x(edges[i]))
    .attr("width", (d, i) => histP.x(edges[i] + 5) - histP.x(edges[i]))
    .attr("y", d => histP.y(d))
    .attr("height", d => histP.y(0) - histP.y(d))
    .attr("fill", color)
    .attr("fill-opacity", 0.65)
    .attr("stroke", "#000")
    .attr("stroke-opacity", 0.7)
    .attr("stroke-width", 1.1)
}
drawBins(uBinEdges, uBinCounts, "#1f77b4")
drawBins(vBinEdges, vBinCounts, "#ff7f0e")
drawFrame(histP, histXTicks, histYTicks, "U and V Wind Components", plainLabel, false)
xLabel(1208, 1155, ["Wind speed (m s", "\u22121", ")"])
yLabel(816.8, 961.8, "Frequency")

legendBox(1425.3, 814, 119.8, 34.7)
svg.append("rect").attr("x", 1430.3).attr("y", 819.5).attr("width", 22.3).attr("height", 7.6)
  .attr("fill", "#1f77b4").attr("fill-opacity", 0.65).attr("stroke", "#000").attr("stroke-opacity", 0.7).attr("stroke-width", 1.1)
legendText(1461.3, 824, "U (zonal)")
svg.append("rect").attr("x", 1430.3).attr("y", 834.7).attr("width", 22.3).attr("height", 7.6)
  .attr("fill", "#ff7f0e").attr("fill-opacity", 0.65).attr("stroke", "#000").attr("stroke-opacity", 0.7).attr("stroke-width", 1.1)
legendText(1461.3, 839, "V (meridional)")
</script>
</body>
</html>
